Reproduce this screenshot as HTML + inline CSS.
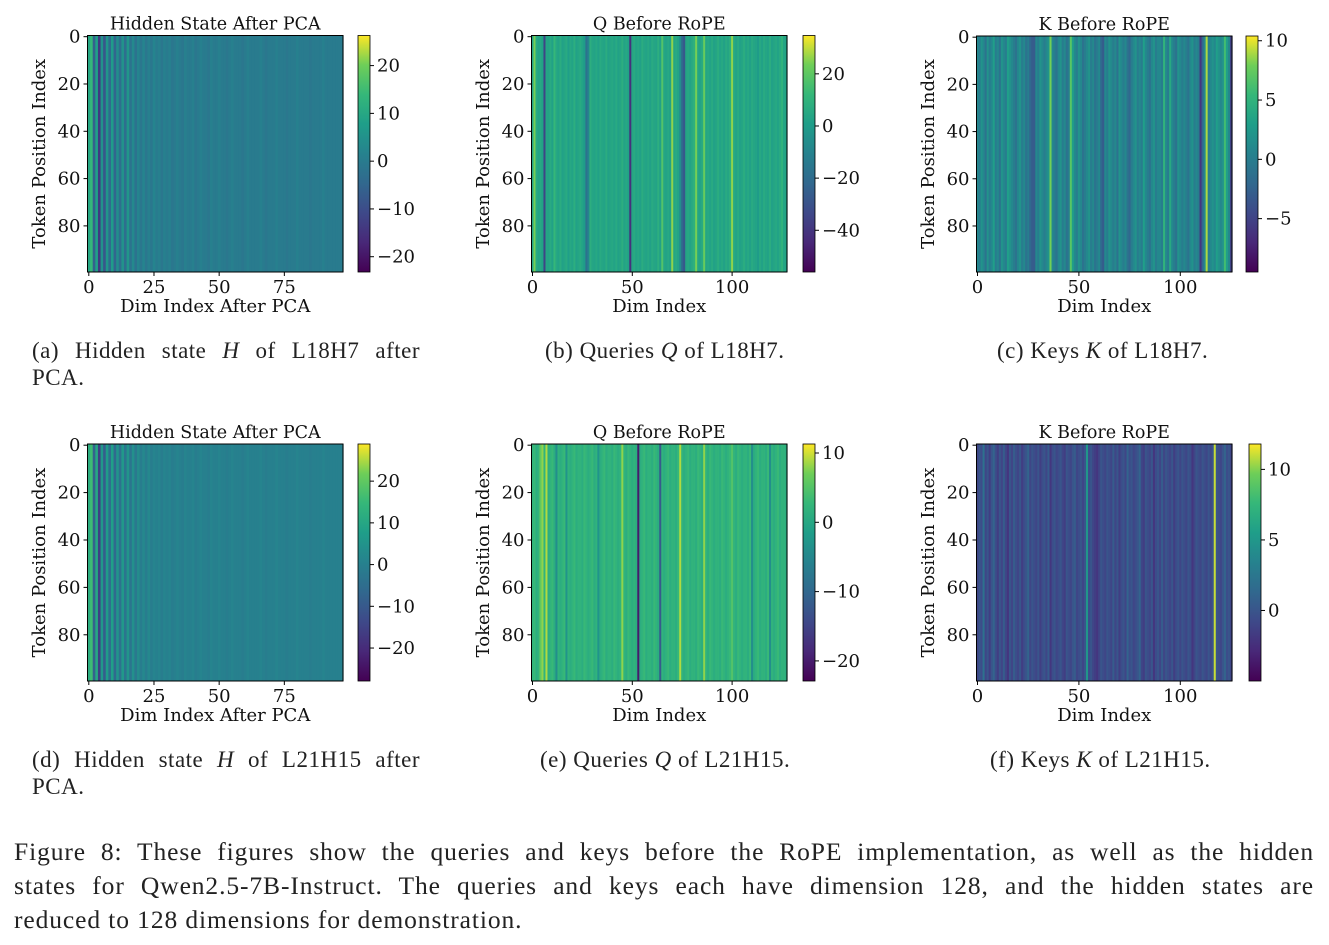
<!DOCTYPE html>
<html><head><meta charset="utf-8"><style>
body{margin:0;background:#fff;width:1329px;height:945px;overflow:hidden;position:relative;font-family:"Liberation Serif",serif;}
.cap{position:absolute;font-size:23px;letter-spacing:0.5px;color:#222;line-height:27px;white-space:nowrap;}
.just{text-align:justify;text-align-last:justify;white-space:normal;}
.fig{position:absolute;left:14px;width:1300px;font-size:25.5px;letter-spacing:0.9px;color:#222;line-height:34px;}
</style></head><body>
<svg id="chart" width="1329" height="945" style="position:absolute;left:0;top:0"></svg>

<div class="cap just" style="left:32px;top:337px;width:388px">(a) Hidden state <i>H</i> of L18H7 after</div>
<div class="cap" style="left:32px;top:364px">PCA.</div>
<div class="cap" style="left:545px;top:337px">(b) Queries <i>Q</i> of L18H7.</div>
<div class="cap" style="left:997px;top:337px">(c) Keys <i>K</i> of L18H7.</div>
<div class="cap just" style="left:32px;top:746px;width:388px">(d) Hidden state <i>H</i> of L21H15 after</div>
<div class="cap" style="left:32px;top:773px">PCA.</div>
<div class="cap" style="left:540px;top:746px">(e) Queries <i>Q</i> of L21H15.</div>
<div class="cap" style="left:990px;top:746px">(f) Keys <i>K</i> of L21H15.</div>
<div class="fig just" style="top:835px">Figure 8: These figures show the queries and keys before the RoPE implementation, as well as the hidden</div>
<div class="fig just" style="top:869px">states for Qwen2.5-7B-Instruct. The queries and keys each have dimension 128, and the hidden states are</div>
<div class="fig" style="top:903px">reduced to 128 dimensions for demonstration.</div>

<script>
// ---- data: per-column mean values ----
const rowCount = 100;
const hiddenL18 = [10,14,-6,8,-14,5,-8,6,-4,7,-5,4,-3,5,-3,6,-2,3,-2,2,-1,2,-1,1,-1,2,0,1,-1,1,0,1,-1,0,1,0,-1,1,0,0,1,-1,0,1,0,0,-1,1,0,0,1,0,0,-1,0,1,0,0,0,-1,0,1,0,0,0,0,1,0,-1,0,0,0,1,0,0,0,-1,0,0,0,1,0,0,0,0,-1,0,0,0,0,1,0,0,0,0,0,0,0];
const qL18 = [4,24,6,3,5,2,-35,4,3,6,2,12,5,3,7,2,4,6,1,5,3,8,2,4,6,3,0,-18,-10,8,4,3,5,2,6,4,3,7,2,4,5,3,6,2,4,8,3,5,2,-42,4,6,3,5,2,7,4,3,5,2,6,4,3,8,2,18,4,3,5,2,26,4,6,3,-6,-22,-28,4,5,3,6,9,24,4,3,6,22,4,5,3,6,2,4,7,3,5,2,6,4,8,26,5,3,6,2,4,7,3,5,2,6,4,3,0,5,2,6,4,3,7,2,4,5,3,6,10,4,3];
const kL18 = [1,0,2,1,-1,2,0,1,3,0,1,-1,2,1,0,3,2,1,0,-1,1,2,0,1,-1,0,-2,-3,-3,1,0,2,1,0,1,2,8,1,0,-1,1,2,0,1,-1,0,7,3,1,0,2,1,-1,0,1,2,0,1,-1,0,1,-2,-3,1,0,2,1,0,1,-1,2,1,0,1,-1,-2,0,1,2,0,1,0,3,1,0,-1,1,2,0,1,1,0,5,1,0,4,1,0,-1,2,1,0,1,0,-1,1,2,0,1,0,-6,-2,1,9,0,1,2,1,3,2,1,2,6,3,1,-5];
const hiddenL21 = [12,16,-8,10,-16,6,-9,7,-5,8,-6,5,-4,6,-3,5,-3,4,-2,3,-1,2,-1,2,-1,1,0,1,-1,1,0,1,-1,0,1,0,-1,1,0,0,1,-1,0,1,0,0,-1,1,0,0,1,0,0,-1,0,1,0,0,0,-1,0,1,0,0,0,0,1,0,-1,0,0,0,1,0,0,0,-1,0,0,0,1,0,0,0,0,-1,0,0,0,0,1,0,0,0,0,0,0,0];
const qL21 = [2,3,1,2,6,8,2,9,1,2,3,1,-4,2,1,2,3,-3,2,1,2,3,1,2,2,1,3,2,1,2,3,1,2,-3,1,2,3,1,2,2,1,3,2,1,2,8,2,1,3,2,1,2,1,-20,1,2,3,1,2,2,1,3,2,1,-12,2,1,2,3,1,2,2,1,3,9,2,1,2,3,1,2,2,1,3,2,1,8,2,1,3,2,1,2,2,1,3,2,1,2,3,5,2,1,3,2,1,2,2,1,3,-4,1,2,3,1,2,2,1,3,-4,2,1,2,3,1,2,2,1];
const kL21 = [-1,0,-0.5,2,-1,0,-1.5,0,1,-0.5,-1.5,0,-1,0.5,-1,-2,0,-1,0.5,-0.5,-1,0,-1.5,-0.5,0,1,-1,0,-0.5,-1,0,-1.5,-0.5,0,-1,0.5,-2,-0.5,0,-1,-0.5,0,-1,-1.5,0,-0.5,-1,0,0.5,-1,-0.5,0,-1,0,5,-0.5,0,-1,-1.5,-2,-1,0,-0.5,-1,0,-0.5,-1,0.5,-1,0,-1.5,-0.5,0,-1,1,-0.5,0,-1,-0.5,0,1,-1,-1.5,0,-0.5,-1,0,-2,-0.5,0,-1,0.5,-1,0,-0.5,-1,0,-1.5,-0.5,0,-1,0,-0.5,-1,0,-0.5,-2,-1,0,-0.5,-1,0,-0.5,-1,0,-1,0,11,0,-0.5,-1,0,1,-0.5,0,-1];
const yTicks = [0,20,40,60,80];
const xTicksPCA = [0,25,50,75];
const xTicksDim = [0,50,100];
const cbTicksA = [-20,-10,0,10,20];
const cbTicksB = [-40,-20,0,20];
const cbTicksC = [-5,0,5,10];
const cbTicksD = [-20,-10,0,10,20];
const cbTicksE = [-20,-10,0,10];
const cbTicksF = [0,5,10];

const panels = [
 {id:'a',data:hiddenL18,x:87.5,y:35.5,vmin:-23.2,vmax:26.3,cb:358,xt:xTicksPCA,ct:cbTicksA,title:'Hidden State After PCA',xl:'Dim Index After PCA',yl:45,h:236.5},
 {id:'b',data:qL18,x:531.5,y:35.5,vmin:-56,vmax:34.7,cb:803,xt:xTicksDim,ct:cbTicksB,title:'Q Before RoPE',xl:'Dim Index',yl:489,h:236.5},
 {id:'c',data:kL18,x:976.5,y:36,vmin:-9.5,vmax:10.4,cb:1246,xt:xTicksDim,ct:cbTicksC,title:'K Before RoPE',xl:'Dim Index',yl:934,h:236},
 {id:'d',data:hiddenL21,x:87.5,y:444,vmin:-27.9,vmax:28.9,cb:358,xt:xTicksPCA,ct:cbTicksD,title:'Hidden State After PCA',xl:'Dim Index After PCA',yl:45,h:237},
 {id:'e',data:qL21,x:531.5,y:444,vmin:-22.9,vmax:11.3,cb:803,xt:xTicksDim,ct:cbTicksE,title:'Q Before RoPE',xl:'Dim Index',yl:489,h:237},
 {id:'f',data:kL21,x:976.5,y:444,vmin:-5,vmax:11.8,cb:1249,xt:xTicksDim,ct:cbTicksF,title:'K Before RoPE',xl:'Dim Index',yl:934,h:237}
];
const W=255.5;
const stops=['#440154','#482878','#3e4989','#31688e','#26828e','#1f9e89','#35b779','#6ece58','#fde725'];
function hex(c){return [1,3,5].map(i=>parseInt(c.substr(i,2),16));}
function viridis(t){t=Math.max(0,Math.min(1,t));const p=t*8,i=Math.min(7,Math.floor(p)),f=p-i;const a=hex(stops[i]),b=hex(stops[i+1]);return 'rgb('+a.map((v,k)=>Math.round(v+(b[k]-v)*f)).join(',')+')';}
const svg=document.getElementById('chart');const NS='http://www.w3.org/2000/svg';
function mk(tag,attrs,parent){const e=document.createElementNS(NS,tag);for(const k in attrs)e.setAttribute(k,attrs[k]);(parent||svg).appendChild(e);return e;}
const defs=mk('defs',{});
const lg=mk('linearGradient',{id:'vir',x1:0,y1:1,x2:0,y2:0},defs);
stops.forEach((c,i)=>mk('stop',{offset:i/8,'stop-color':c},lg));
const FONT='"DejaVu Serif", "Liberation Serif", serif';
function fmt(v){return v<0?'\u2212'+(-v):String(v);}
panels.forEach(p=>{
 const g=mk('g',{});
 
 
 const n=p.data.length,cw=W/n;
 const xs=i=>p.x+i*cw;
 const ys=r=>p.y+r*p.h/rowCount;
 const col=v=>viridis((v-p.vmin)/(p.vmax-p.vmin));
 p.data.forEach((v,i)=>{
  const r=mk('rect',{x:xs(i),y:p.y,width:cw+0.6,height:p.h,fill:col(v)},g);
  
  
 });
 mk('rect',{x:p.x,y:p.y,width:W,height:p.h,fill:'none',stroke:'#000','stroke-width':1},g);
 const t=mk('text',{x:p.x+W/2,y:p.y-6,'text-anchor':'middle','font-size':17.5,'font-family':FONT,fill:'#111'},g);t.textContent=p.title;
 
 
 yTicks.forEach(v=>{const yy=ys(v+0.5);mk('line',{x1:p.x-4,x2:p.x,y1:yy,y2:yy,stroke:'#000'},g);
  const l=mk('text',{x:p.x-7,y:yy+6,'text-anchor':'end','font-size':18,'font-family':FONT,fill:'#111'},g);l.textContent=v;
  
  });
 p.xt.forEach(v=>{const xx=xs(v+0.5);mk('line',{x1:xx,x2:xx,y1:p.y+p.h,y2:p.y+p.h+4,stroke:'#000'},g);
  const l=mk('text',{x:xx,y:p.y+p.h+21,'text-anchor':'middle','font-size':18,'font-family':FONT,fill:'#111'},g);l.textContent=v;
  
  });
 const xl=mk('text',{x:p.x+W/2,y:p.y+p.h+40,'text-anchor':'middle','font-size':18,'font-family':FONT,fill:'#111'},g);xl.textContent=p.xl;
 
 
 const yl=mk('text',{x:p.yl,y:p.y+p.h/2,'text-anchor':'middle','font-size':18,'font-family':FONT,fill:'#111',transform:'rotate(-90 '+p.yl+' '+(p.y+p.h/2)+')'},g);yl.textContent='Token Position Index';
 
 
 const cb=mk('rect',{x:p.cb,y:p.y,width:12,height:p.h,fill:'url(#vir)',stroke:'#000','stroke-width':0.8},g);
 
 
 p.ct.forEach(v=>{const yy=p.y+p.h*(p.vmax-v)/(p.vmax-p.vmin);mk('line',{x1:p.cb+12,x2:p.cb+16,y1:yy,y2:yy,stroke:'#000'},g);
  const l=mk('text',{x:p.cb+19,y:yy+6,'font-size':18,'font-family':FONT,fill:'#111'},g);l.textContent=fmt(v);
  
  });
});
</script>
</body></html>
